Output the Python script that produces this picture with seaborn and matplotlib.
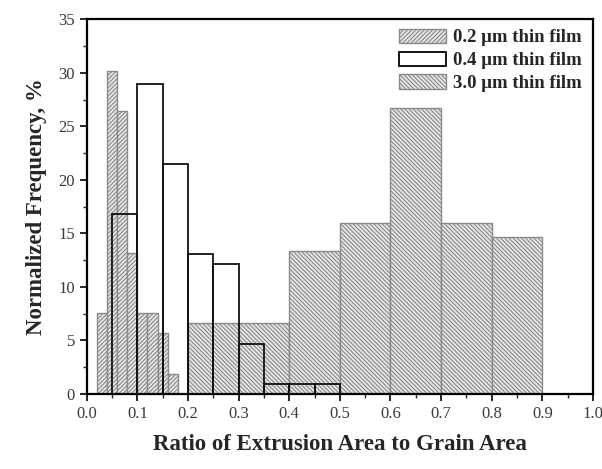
import numpy as np
import pandas as pd
import seaborn as sns
import matplotlib
matplotlib.use("Agg")
import matplotlib.pyplot as plt
from matplotlib.patches import Patch

# ---- data ----
edges_02 = [0.02, 0.04, 0.06, 0.08, 0.10, 0.12, 0.14, 0.16, 0.18]
freq_02 = [7.55, 30.19, 26.42, 13.21, 7.55, 7.55, 5.66, 1.89]

edges_04 = [0.05, 0.10, 0.15, 0.20, 0.25, 0.30, 0.35, 0.40, 0.45, 0.50]
freq_04 = [16.82, 28.97, 21.50, 13.08, 12.15, 4.67, 0.93, 0.93, 0.93]

edges_30 = [0.2, 0.3, 0.4, 0.5, 0.6, 0.7, 0.8, 0.9]
freq_30 = [6.67, 6.67, 13.33, 16.00, 26.67, 16.00, 14.67]

labels = ["0.2 \u03bcm thin film", "0.4 \u03bcm thin film", "3.0 \u03bcm thin film"]
xticks = [0.0, 0.1, 0.2, 0.3, 0.4, 0.5, 0.6, 0.7, 0.8, 0.9, 1.0]
yticks = [0, 5, 10, 15, 20, 25, 30, 35]

sns.set_style("ticks")
plt.rcParams["font.family"] = ["Liberation Serif", "DejaVu Serif"]
plt.rcParams["hatch.linewidth"] = 0.8
plt.rcParams["hatch.color"] = "#9c9c9c"

fig = plt.figure(figsize=(6.02, 4.69), dpi=100)
ax = fig.add_axes([0.144, 0.16, 0.841, 0.799])


def centers(e):
    e = np.asarray(e)
    return (e[:-1] + e[1:]) / 2


hatch_col = "#9c9c9c"
edge_col = "#8a8a8a"
fill_col = "#e6e6e6"
hatch_02 = "////////"
hatch_30 = "\\\\\\\\\\\\\\\\"

# 3.0 um film (back)
sns.histplot(x=centers(edges_30), weights=freq_30, bins=edges_30, ax=ax,
             color=fill_col, alpha=1, edgecolor=edge_col, linewidth=1.0,
             zorder=1)
p30 = list(ax.patches)
for p in p30:
    p.set_hatch(hatch_30)
    p.set_facecolor(fill_col)

# 0.2 um film
sns.histplot(x=centers(edges_02), weights=freq_02, bins=edges_02, ax=ax,
             color=fill_col, alpha=1, edgecolor=edge_col, linewidth=1.0,
             zorder=2)
p02 = list(ax.patches)[len(p30):]
for p in p02:
    p.set_hatch(hatch_02)
    p.set_facecolor(fill_col)

# 0.4 um film (outline only)
n0 = len(ax.patches)
sns.histplot(x=centers(edges_04), weights=freq_04, bins=edges_04, ax=ax,
             fill=False, element="bars", edgecolor="black", linewidth=1.3,
             zorder=3)
for p in list(ax.patches)[n0:]:
    p.set_facecolor("none")
    p.set_edgecolor("#111111")
    p.set_linewidth(1.3)

ax.set_xlim(0, 1.0)
ax.set_ylim(0, 35)
ax.set_xticks(xticks)
ax.set_xticklabels([f"{t:.1f}" for t in xticks])
ax.set_yticks(yticks)
ax.set_xticks(np.arange(0.05, 1.0, 0.1), minor=True)
ax.set_yticks(np.arange(2.5, 35, 5), minor=True)
ax.tick_params(axis="both", which="major", direction="out", length=5,
               width=1.2, labelsize=12, colors="black", labelcolor="#3a3a3a")
ax.tick_params(axis="both", which="minor", direction="out", length=3, width=1.0)
for s in ax.spines.values():
    s.set_visible(True)
    s.set_linewidth(1.6)
    s.set_color("black")

ax.set_xlabel("Ratio of Extrusion Area to Grain Area", fontsize=16.5,
              fontweight="bold", labelpad=9)
ax.set_ylabel("Normalized Frequency, %", fontsize=16.5, fontweight="bold",
              labelpad=8)

handles = [
    Patch(facecolor=fill_col, edgecolor=edge_col, hatch=hatch_02, linewidth=1.0),
    Patch(facecolor="white", edgecolor="black", linewidth=1.3),
    Patch(facecolor=fill_col, edgecolor=edge_col, hatch=hatch_30, linewidth=1.0),
]
leg = ax.legend(handles, labels, loc="upper right",
                bbox_to_anchor=(0.985, 0.985),
                frameon=False, prop={"weight": "bold", "size": 13.5},
                handlelength=2.5, handleheight=0.8, labelspacing=0.28,
                handletextpad=0.35, borderpad=0.2, borderaxespad=0)
leg.set_zorder(5)

fig.savefig("out.png", dpi=100)
